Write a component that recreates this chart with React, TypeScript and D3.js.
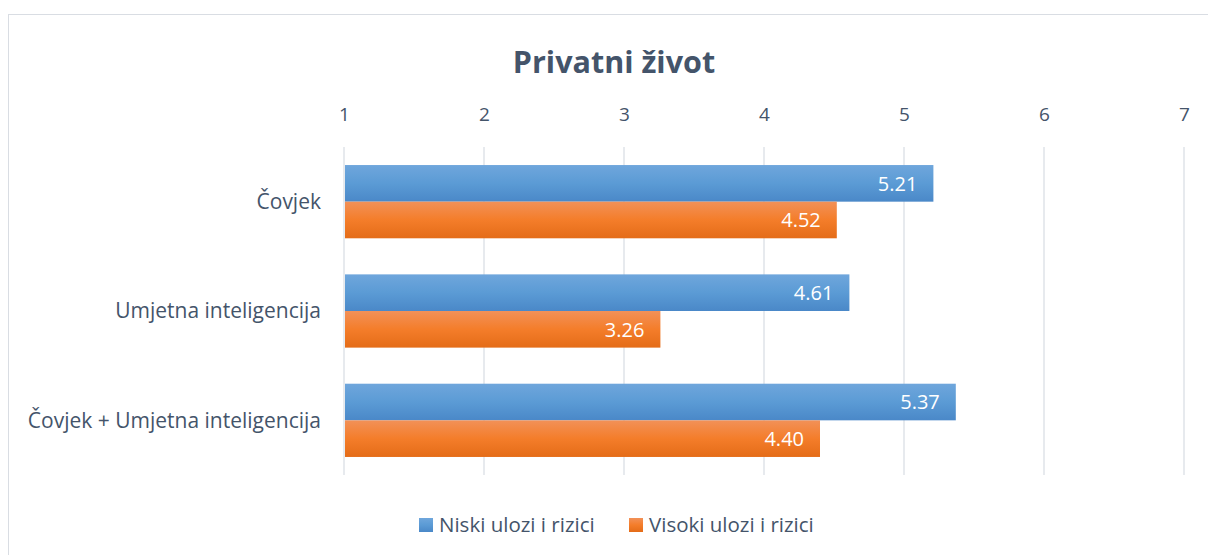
import { useEffect, useRef } from 'react'
import * as d3 from 'd3'

const categories = ['Čovjek', 'Umjetna inteligencija', 'Čovjek + Umjetna inteligencija']
const seriesNames = ['Niski ulozi i rizici', 'Visoki ulozi i rizici']
const niskiValues = [5.21, 4.61, 5.37]
const visokiValues = [4.52, 3.26, 4.4]
const xTicks = [1, 2, 3, 4, 5, 6, 7]

const TEXT = '#44546A'
const FONT = '"Open Sans", "Noto Sans", sans-serif'
const GRADS = [
  { id: 'gBlue', top: '#6fa6dc', mid: '#5b9bd5', bot: '#4a88c8' },
  { id: 'gOrange', top: '#f29158', mid: '#f47d2a', bot: '#e46c18' },
]

export default function App() {
  const ref = useRef<SVGSVGElement>(null)

  useEffect(() => {
    if (!ref.current) return
    d3.select(ref.current).selectAll('*').remove()
    render(ref.current)
  }, [])

  return <svg ref={ref} style={{ display: 'block', position: 'absolute', left: 0, top: 0 }} />
}

function render(el: SVGSVGElement) {
  const W = 1208
  const H = 555
  const plot = { left: 344, right: 1184, top: 147, bottom: 475 }

  const svg = d3.select(el).attr('width', W).attr('height', H).style('font-family', FONT)

  const defs = svg.append('defs')
  GRADS.forEach((g) => {
    const lg = defs.append('linearGradient').attr('id', g.id).attr('x1', 0).attr('y1', 0).attr('x2', 0).attr('y2', 1)
    lg.append('stop').attr('offset', '0%').attr('stop-color', g.top)
    lg.append('stop').attr('offset', '50%').attr('stop-color', g.mid)
    lg.append('stop').attr('offset', '100%').attr('stop-color', g.bot)
  })

  // Chart border
  svg.append('rect')
    .attr('x', 8.5).attr('y', 14.5)
    .attr('width', W).attr('height', H)
    .attr('fill', '#fff').attr('stroke', '#d9dde3')

  // Title
  svg.append('text')
    .attr('x', 614).attr('y', 73)
    .attr('text-anchor', 'middle')
    .attr('font-size', 30.5).attr('font-weight', 700)
    .attr('fill', TEXT)
    .text('Privatni život')

  const x = d3.scaleLinear().domain([1, 7]).range([plot.left, plot.right])
  const y0 = d3.scaleBand().domain(categories).range([plot.top, plot.bottom]).paddingInner(0.33).paddingOuter(0.165)
  const y1 = d3.scaleBand().domain(seriesNames).range([0, y0.bandwidth()])

  // Grid
  svg.append('g')
    .selectAll('line')
    .data(xTicks)
    .join('line')
    .attr('x1', (d) => x(d)).attr('x2', (d) => x(d))
    .attr('y1', plot.top).attr('y2', plot.bottom)
    .attr('stroke', '#dfe3e8').attr('stroke-width', 1.5)

  // Top axis labels
  const ax = svg.append('g')
    .attr('transform', `translate(0,${plot.top - 23})`)
    .call(d3.axisTop(x).tickValues(xTicks).tickSize(0).tickFormat(d3.format('d')))
  ax.select('.domain').remove()
  ax.selectAll('text').attr('font-size', 19).attr('fill', TEXT).attr('font-family', FONT).attr('dy', 0)

  // Category labels
  svg.append('g')
    .selectAll('text')
    .data(categories)
    .join('text')
    .attr('x', 321)
    .attr('y', (d) => y0(d)! + y0.bandwidth() / 2)
    .attr('dy', '0.35em')
    .attr('text-anchor', 'end')
    .attr('font-size', 21)
    .attr('fill', TEXT)
    .text((d) => d)

  const rows = categories.flatMap((c, i) => [
    { cat: c, s: seriesNames[0], v: niskiValues[i], fill: 'url(#gBlue)' },
    { cat: c, s: seriesNames[1], v: visokiValues[i], fill: 'url(#gOrange)' },
  ])

  const bars = svg.append('g')
  bars.selectAll('rect')
    .data(rows)
    .join('rect')
    .attr('x', x(1) + 1)
    .attr('y', (d) => y0(d.cat)! + y1(d.s)!)
    .attr('width', (d) => x(d.v) - x(1) - 1)
    .attr('height', y1.bandwidth())
    .attr('fill', (d) => d.fill)

  bars.selectAll('text')
    .data(rows)
    .join('text')
    .attr('x', (d) => x(d.v) - 16)
    .attr('y', (d) => y0(d.cat)! + y1(d.s)! + y1.bandwidth() / 2)
    .attr('dy', '0.36em')
    .attr('text-anchor', 'end')
    .attr('font-size', 20)
    .attr('fill', '#fff')
    .text((d) => d.v.toFixed(2))

  // Legend
  const legend = [
    { label: seriesNames[0], fill: 'url(#gBlue)', x: 419 },
    { label: seriesNames[1], fill: 'url(#gOrange)', x: 629 },
  ]
  legend.forEach((l) => {
    svg.append('rect').attr('x', l.x).attr('y', 518).attr('width', 14).attr('height', 14).attr('fill', l.fill)
    svg.append('text')
      .attr('x', l.x + 20).attr('y', 525)
      .attr('dy', '0.36em')
      .attr('font-size', 20.5)
      .attr('fill', TEXT)
      .text(l.label)
  })
}
